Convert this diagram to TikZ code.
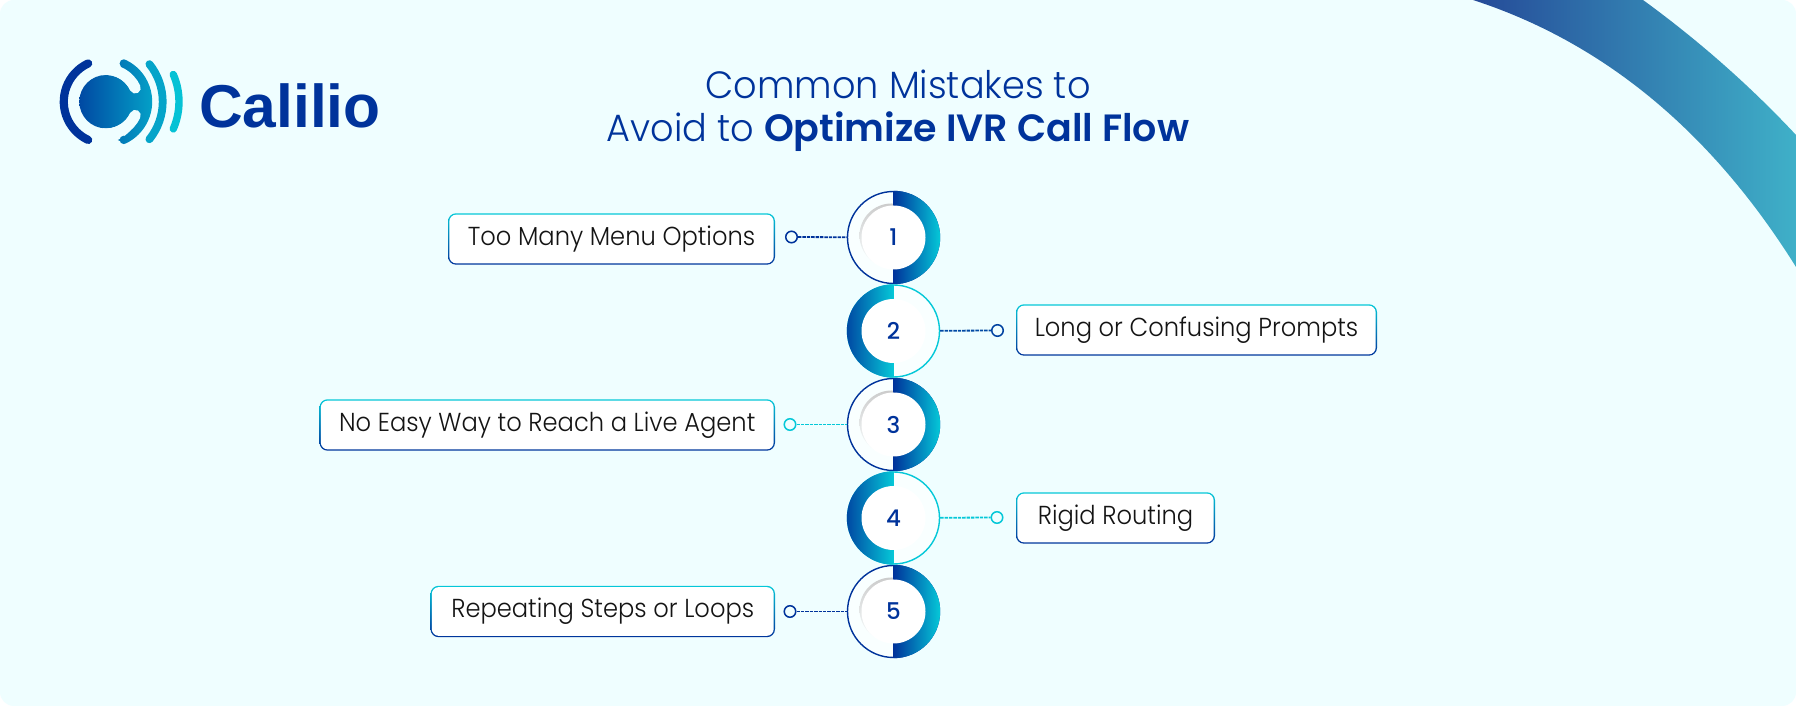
\documentclass[tikz,border=0pt]{standalone}
\usepackage{fontspec}
\setmainfont{Poppins}[UprightFont=*-Light,BoldFont=*-SemiBold,FakeStretch=0.93]
\newfontfamily\titlefont{Poppins}[UprightFont=*-Light,BoldFont=*-SemiBold,UprightFeatures={FakeStretch=0.965},BoldFeatures={FakeStretch=1.0}]
\newfontfamily\logofont{Liberation Sans}[BoldFont=* Bold]
\newfontfamily\numfont{Poppins}[UprightFont=*-Medium]
\usetikzlibrary{positioning}
\definecolor{pagebg}{HTML}{EFFEFF}
\definecolor{navy}{HTML}{00339B}
\definecolor{aqua}{HTML}{05C8D8}
\definecolor{deepblue}{HTML}{0049A3}
\definecolor{bandleft}{HTML}{254A98}
\definecolor{bandright}{HTML}{3FB0C8}
\tikzset{
  labelbox/.style={rounded corners=7pt,fill=white,inner sep=0pt,text=black!92,
    font=\fontsize{26}{30}\selectfont},
  numdisk/.style={circle,fill=white,minimum size=64pt,inner sep=0pt,text=navy,
    font=\numfont\fontsize{23}{28}\selectfont},
  outerdisk/.style={circle,minimum size=92pt,inner sep=0pt,line width=1.4pt,fill=white!65!pagebg},
  enddot/.style={circle,minimum size=11.5pt,inner sep=0pt,line width=1.5pt,fill=pagebg},
  dashline/.style={line width=1.8pt,dash pattern=on 3.4pt off 1pt}
}
\begin{document}
\begin{tikzpicture}[x=1pt,y=1pt]
  \useasboundingbox (0,0) rectangle (1796,706);
  \fill[white] (0,0) rectangle (1796,706);
  \fill[pagebg,rounded corners=14pt] (0,0) rectangle (1796,706);

  % corner band
  \begin{scope}
    \clip[rounded corners=14pt] (0,0) rectangle (1796,706);
    \shade[left color=bandleft,right color=bandright]
      (1473,706) .. controls (1603.6,663.6) and (1711.3,574.6) .. (1796,439)
      -- (1796,571) .. controls (1750,620.2) and (1699,665.2) .. (1643,706) -- cycle;
  \end{scope}

  % logo
  \draw[navy,line width=8.2pt,line cap=round] (106,604.3) ++(115:42.2) arc (115:245:42.2);
  \shade[left color=deepblue,right color=aqua!75!deepblue]
    (106,604.3) +(65:46.2) arc (65:-65:46.2) -- ++(155:8.4) arc (-65:65:37.8) -- cycle
    (106,604.3) +(0:26.7) arc (0:-360:26.7)
    (106,616.3) -- (145,616.3) -- (145,592.3) -- (106,592.3) -- cycle
    (123.8,642.5) +(0:4.2) arc (0:-360:4.2)
    (123.8,566.1) +(0:4.2) arc (0:-360:4.2);
  \draw[pagebg,line width=11pt,line cap=round] (106,604.3) ++(95:32.3) arc (95:25:32.3);
  \draw[pagebg,line width=11pt,line cap=round] (106,604.3) ++(-95:32.3) arc (-95:-25:32.3);
  \draw[aqua!72!deepblue,line width=7.8pt,line cap=round] (103,604.3) ++(39:59.7) arc (39:-39:59.7);
  \draw[aqua!95!deepblue,line width=7.4pt,line cap=round] (111.3,604.3) ++(23.7:67.7) arc (23.7:-23.7:67.7);
  \node[anchor=base west,inner sep=0pt,text=navy,font=\logofont\bfseries\fontsize{60.5}{62}\selectfont] (logo) at (199,578) {Calilio};

  % title
  \node[text=navy,align=center,inner sep=0pt,font=\titlefont\fontsize{38}{43.3}\selectfont] (title) at (898,595.5)
    {Common Mistakes to\\Avoid to \textbf{Optimize IVR Call Flow}};

  % odd steps, ring on the right
  \foreach \n/\ypos in {1/468.5,3/281.5,5/94.5} {
    \node[outerdisk,draw=navy] (c\n) at (893.5,\ypos) {};
    \shade[top color=black!20,bottom color=white!65!pagebg] (891.5,\ypos+2) circle (32pt);
    \shade[left color=navy,right color=aqua] (893.5,\ypos+46.7) arc (90:-90:46.7) -- cycle;
    \node[numdisk] (n\n) at (893.5,\ypos) {\n};
  }
  % even steps, ring on the left
  \foreach \n/\ypos in {2/375,4/188} {
    \node[outerdisk,draw=aqua] (c\n) at (893.5,\ypos) {};
    \shade[left color=deepblue,right color=aqua] (893.5,\ypos+46.7) arc (90:270:46.7) -- cycle;
    \node[numdisk] (n\n) at (893.5,\ypos) {\n};
  }

  % label boxes
  \foreach \n/\xa/\xb/\ypos/\txt in {
    1/448/775/467/Too Many Menu Options,
    2/1016/1377/376/Long or Confusing Prompts,
    3/319.5/775/281/No Easy Way to Reach a Live Agent,
    4/1016/1215/188/Rigid Routing,
    5/430.5/775/94.5/Repeating Steps or Loops} {
    \shade[rounded corners=8pt,top color=aqua,bottom color=navy]
      (\xa,\ypos-25.7) rectangle (\xb,\ypos+25.7);
    \pgfmathsetlengthmacro{\boxw}{\xb-\xa-2.6}
    \node[labelbox,minimum width=\boxw,minimum height=48.8pt] (b\n) at ({(\xa+\xb)/2},\ypos) {\raisebox{-6.5pt}[0pt][0pt]{\txt}};
  }

  % connectors
  \node[enddot,draw=navy] (d1) at (791.5,469) {};
  \node[enddot,draw=navy!90!aqua] (d2) at (997.5,375.5) {};
  \node[enddot,draw=aqua] (d3) at (790,281.5) {};
  \node[enddot,draw=aqua] (d4) at (997,188.5) {};
  \node[enddot,draw=navy] (d5) at (790,94.5) {};
  \draw[dashline,navy] (d1) -- (c1);
  \draw[dashline,navy!85!aqua] (c2) -- (d2);
  \draw[dashline,aqua] (d3) -- (c3);
  \draw[dashline,aqua] (c4) -- (d4);
  \draw[dashline,navy] (d5) -- (c5);
\end{tikzpicture}
\end{document}
